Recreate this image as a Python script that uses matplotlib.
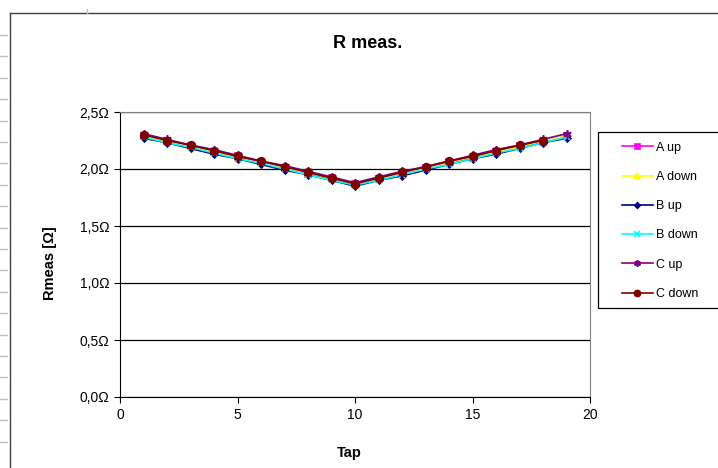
import matplotlib
matplotlib.use('Agg')
import matplotlib.pyplot as plt
from matplotlib.lines import Line2D
from matplotlib.patches import Rectangle
from matplotlib.ticker import FuncFormatter
import numpy as np

plt.rcParams['font.family'] = ['Liberation Sans', 'DejaVu Sans']

taps = list(range(1, 20))
a_up = [2.29, 2.25, 2.20, 2.15, 2.11, 2.06, 2.01, 1.96, 1.92, 1.87, 1.91, 1.96, 2.01, 2.06, 2.10, 2.15, 2.20, 2.24, 2.29]
a_down = [2.29, 2.24, 2.19, 2.15, 2.10, 2.05, 2.01, 1.96, 1.91, 1.86, 1.91, 1.96, 2.00, 2.05, 2.10, 2.15, 2.19, 2.24, 2.29]
b_up = [2.27, 2.23, 2.18, 2.13, 2.09, 2.04, 1.99, 1.95, 1.90, 1.85, 1.90, 1.94, 1.99, 2.04, 2.09, 2.13, 2.18, 2.23, 2.27]
b_down = [2.28, 2.23, 2.19, 2.14, 2.09, 2.05, 2.00, 1.95, 1.90, 1.86, 1.90, 1.95, 2.00, 2.04, 2.09, 2.14, 2.18, 2.23, 2.28]
c_up = [2.31, 2.26, 2.21, 2.17, 2.12, 2.07, 2.03, 1.98, 1.93, 1.88, 1.93, 1.98, 2.02, 2.07, 2.12, 2.17, 2.21, 2.26, 2.31]
c_down = [2.30, 2.25, 2.21, 2.16, 2.11, 2.07, 2.02, 1.97, 1.92, 1.87, 1.92, 1.97, 2.02, 2.07, 2.11, 2.16, 2.21, 2.25, np.nan]

series = [
    ('A up', a_up, '#ff00ff', 's', 4.5),
    ('A down', a_down, '#ffff00', '^', 5),
    ('B up', b_up, '#000080', 'D', 3.5),
    ('B down', b_down, '#00ffff', 'x', 5),
    ('C up', c_up, '#800080', (6, 2, 0), 6),
    ('C down', c_down, '#800000', 'o', 5.5),
]

fig = plt.figure(figsize=(7.18, 4.68), dpi=100)
W, H = 718, 468
ax = fig.add_axes([120 / W, (H - 397) / H, 470 / W, 285 / H])

for name, vals, col, mk, ms in series:
    ax.plot(taps, vals, color=col, marker=mk, markersize=ms, lw=1.2,
            markeredgecolor=col, markerfacecolor=col, markeredgewidth=1.2, label=name)

ax.set_xlim(0, 20)
ax.set_ylim(0, 2.5)
ax.set_xticks([0, 5, 10, 15, 20])
ax.set_yticks(np.arange(0, 2.51, 0.5))
ax.yaxis.set_major_formatter(FuncFormatter(lambda v, p: ('%.1f' % v).replace('.', ',') + 'Ω'))
ax.grid(axis='y', color='black', lw=0.9)
ax.tick_params(direction='out', length=4, labelsize=10, colors='black')
ax.tick_params(axis='x', pad=4)
for s in ['top', 'right']:
    ax.spines[s].set_color('#808080')
for s in ['left', 'bottom']:
    ax.spines[s].set_color('black')

fig.text(349 / W, 1 - 453 / H, 'Tap', fontsize=10.5, fontweight='bold', ha='center', va='center')
fig.text(50 / W, 1 - 263 / H, 'Rmeas [Ω]', fontsize=10.5, fontweight='bold',
         ha='center', va='center', rotation=90)
fig.text(368 / W, 1 - 43 / H, 'R meas.', fontsize=13, fontweight='bold', ha='center', va='center')

fig.add_artist(Rectangle((598 / W, 1 - 308 / H), 130 / W, 176 / H, transform=fig.transFigure,
                         facecolor='white', edgecolor='black', lw=0.9))
leg = fig.legend(loc='upper left', bbox_to_anchor=(614 / W, 1 - 134 / H), fontsize=9,
                 frameon=False, labelspacing=1.38, handlelength=2.5, markerscale=0.8,
                 borderpad=0.62, handletextpad=0.25, borderaxespad=0)

# chart area border and sheet ruler marks
fig.add_artist(Line2D([10 / W, 10 / W], [0, 1 - 13 / H], color='#404040', lw=1))
fig.add_artist(Line2D([10 / W, 1], [1 - 13 / H, 1 - 13 / H], color='#404040', lw=1))
fig.add_artist(Line2D([87 / W, 87 / W], [1 - 9 / H, 1 - 13 / H], color='#c0c0c0', lw=1))
for yy in np.arange(35, 450, 21.4):
    fig.add_artist(Line2D([0, 7 / W], [1 - yy / H, 1 - yy / H], color='#c0c0c0', lw=1))

fig.savefig('out.png', dpi=100)
